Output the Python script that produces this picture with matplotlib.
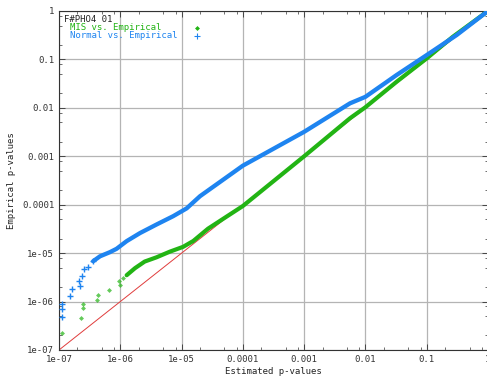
import matplotlib.pyplot as plt
import matplotlib.ticker as mticker

# sparse low-end points
normal_x_pts = [1.1e-7, 1.1e-7, 1.1e-7, 1.51e-7, 1.61e-7, 2.14e-7, 2.2e-7, 2.34e-7, 2.56e-7, 3.0e-7, 3.6e-7]
normal_y_pts = [4.7e-7, 7e-7, 9e-7, 1.3e-6, 1.8e-6, 2.6e-6, 2.1e-6, 3.3e-6, 4.6e-6, 5.2e-6, 6.8e-6]
mis_x_pts = [1.1e-7, 2.26e-7, 2.49e-7, 2.49e-7, 4.1e-7, 4.4e-7, 6.5e-7, 9.6e-7, 9.9e-7, 1.1e-6]
mis_y_pts = [2.2e-7, 4.5e-7, 7.2e-7, 9.1e-7, 1.1e-6, 1.37e-6, 1.74e-6, 2.6e-6, 2.2e-6, 3.0e-6]

# dense part (reads of the band centre)
normal_x = [3.6e-7, 4.66e-7, 6.8e-7, 8.7e-7, 1.27e-6, 2.1e-6, 3.9e-6, 7.3e-6, 1.21e-5, 2.0e-5,
            1e-4, 1e-3, 5.6e-3, 1e-2, 3.23e-2, 0.1, 0.308, 1.0]
normal_y = [6.8e-6, 8.6e-6, 1.05e-5, 1.23e-5, 1.77e-5, 2.6e-5, 3.9e-5, 5.8e-5, 8.4e-5, 1.5e-4,
            6.4e-4, 3.2e-3, 1.24e-2, 1.69e-2, 4.77e-2, 0.123, 0.319, 1.0]
mis_x = [1.27e-6, 1.74e-6, 2.5e-6, 3.9e-6, 6.4e-6, 1.06e-5, 1.55e-5, 2.7e-5,
         1e-4, 1e-3, 5.6e-3, 1e-2, 3.23e-2, 0.1, 0.267, 1.0]
mis_y = [3.5e-6, 4.9e-6, 6.7e-6, 8.2e-6, 1.07e-5, 1.35e-5, 1.78e-5, 3.2e-5,
         9.4e-5, 1.0e-3, 6.1e-3, 1.03e-2, 3.46e-2, 0.105, 0.294, 1.0]

diag = [1e-7, 1.0]

tick_vals = [1e-7, 1e-6, 1e-5, 1e-4, 1e-3, 1e-2, 0.1, 1]
tick_labels = ['1e-07', '1e-06', '1e-05', '0.0001', '0.001', '0.01', '0.1', '1']

plot_title = 'F#PHO4 01'
series_names = ['MIS vs. Empirical', 'Normal vs. Empirical']

blue = '#1e84f0'
green = '#22b414'
red = '#e03c3c'

plt.rcParams['font.family'] = 'DejaVu Sans Mono'
plt.rcParams['font.size'] = 6.5

fig = plt.figure(figsize=(4.87, 3.81), dpi=100)
ax = fig.add_axes([59 / 487, 31 / 381, 429 / 487, 339 / 381])

ax.plot(diag, diag, color=red, lw=0.7, zorder=2)
ax.plot(mis_x, mis_y, color=green, lw=3.0, solid_capstyle='round', zorder=3)
ax.plot(mis_x_pts, mis_y_pts, 'D', color=green, ms=2.5, alpha=0.7, mew=0, zorder=3)
ax.plot(normal_x, normal_y, color=blue, lw=3.1, solid_capstyle='round', zorder=4)
ax.plot(normal_x_pts, normal_y_pts, '+', color=blue, ms=5, mew=1.0, zorder=4)

ax.set_xscale('log')
ax.set_yscale('log')
ax.set_xlim(1e-7, 1)
ax.set_ylim(1e-7, 1)
ax.set_xticks(tick_vals)
ax.set_xticklabels(tick_labels)
ax.set_yticks(tick_vals)
ax.set_yticklabels(tick_labels)
ax.xaxis.set_minor_locator(mticker.LogLocator(subs=(2, 5, 8)))
ax.yaxis.set_minor_locator(mticker.LogLocator(subs=(2, 5, 8)))
ax.xaxis.set_minor_formatter(mticker.NullFormatter())
ax.yaxis.set_minor_formatter(mticker.NullFormatter())
ax.tick_params(which='both', direction='in', top=True, right=True, colors='#333333', labelsize=6.5)
ax.tick_params(which='major', length=4, width=0.6)
ax.tick_params(which='minor', length=2, width=0.5)
ax.grid(True, which='major', color='#b4b4b4', lw=0.9)
ax.set_axisbelow(True)
for s in ax.spines.values():
    s.set_color('#333333')
    s.set_linewidth(0.8)

ax.set_xlabel('Estimated p-values', labelpad=2, color='#222222')
ax.set_ylabel('Empirical p-values', labelpad=4, color='#222222')

# gnuplot style key, left-justified text with the symbol on the right
ax.text(0.012, 0.976, plot_title, transform=ax.transAxes, va='center', ha='left', color='#222222')
ax.text(0.026, 0.951, series_names[0], transform=ax.transAxes, va='center', ha='left', color=green)
ax.text(0.026, 0.927, series_names[1], transform=ax.transAxes, va='center', ha='left', color=blue)
ax.plot([0.321], [0.951], 'D', color=green, ms=2.5, mew=0, transform=ax.transAxes, clip_on=False)
ax.plot([0.321], [0.927], '+', color=blue, ms=4, mew=0.8, transform=ax.transAxes, clip_on=False)

fig.savefig('out.png', dpi=100)
